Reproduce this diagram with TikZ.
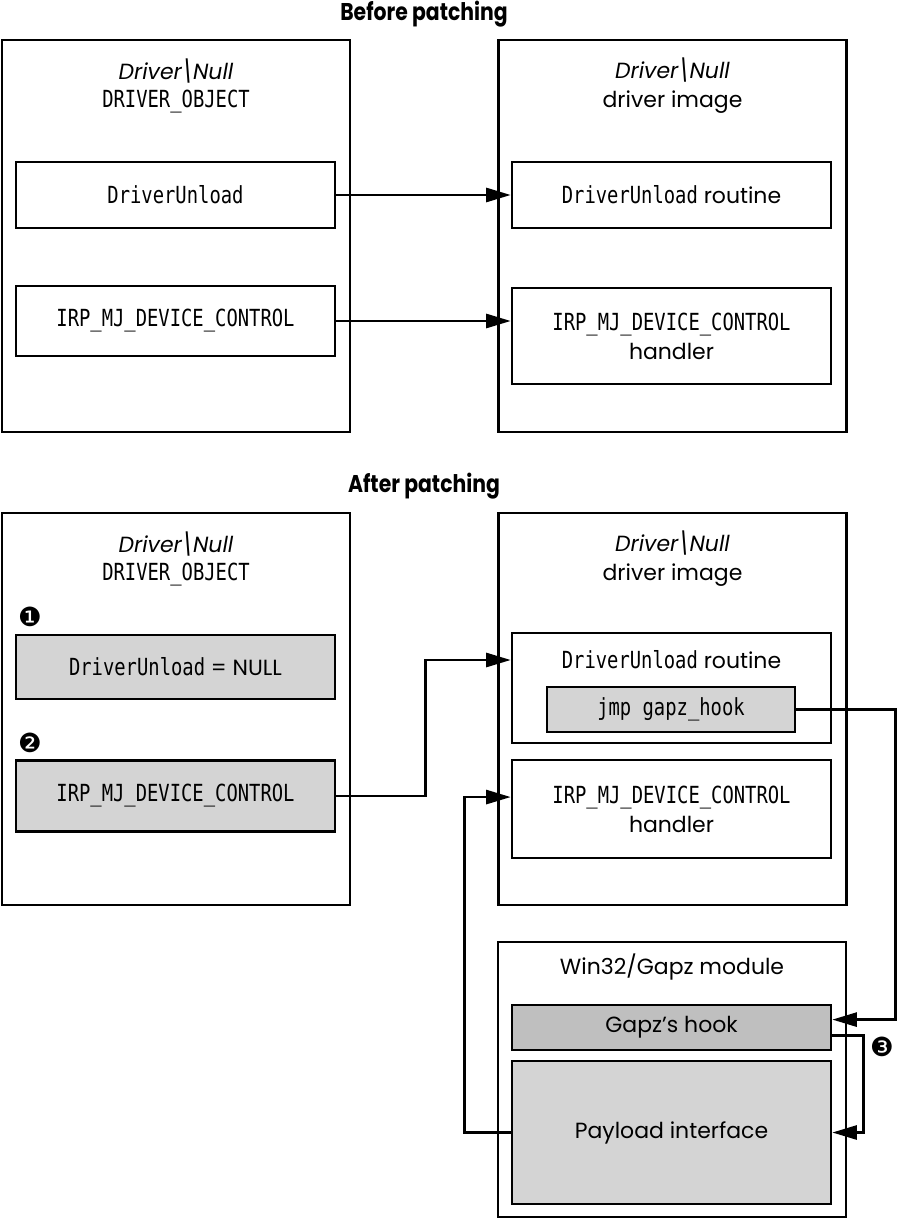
\documentclass[tikz,border=0pt]{standalone}
\usepackage{fontspec}
\setmainfont{Poppins}
\setmonofont{DejaVu Sans Mono}[FakeStretch=0.8]
\newfontfamily\numfont{DejaVu Sans}
\usetikzlibrary{arrows.meta}
\newcommand{\codetext}[1]{{\fontsize{13.4}{16.4}\selectfont\ttfamily #1}}

\begin{document}
\begin{tikzpicture}[x=0.02cm, y=-0.02cm,
            frame/.style={draw, line width=1.5pt, minimum width=6.96cm, minimum height=7.84cm},
            slot/.style={draw, line width=1.5pt, minimum width=6.38cm, align=center,
                font=\fontsize{12.5}{16.4}\selectfont},
            grey/.style={fill=black!17},
            hookfill/.style={fill=black!25},
            arr/.style={line width=1.5pt, -{Triangle[length=14pt, width=8pt]}},
            head/.style={font=\fontsize{13.8}{16}\selectfont\bfseries\addfontfeatures{FakeStretch=0.84}},
            caption/.style={align=center, font=\fontsize{12.5}{16.4}\selectfont},
            numstyle/.style={font=\fontsize{15}{15}\selectfont\numfont, inner sep=0pt}]
            \useasboundingbox (0,0) rectangle (898,1219);

            \node[head] (before) at (424,14) {Before patching};
            \node[frame] (objA) at (176,236) {};
            \node[frame] (imgA) at (672.5,236) {};
            \node[caption] (objA-title) at (176,86) {\textit{Driver\textbackslash Null}\\\codetext{DRIVER\_OBJECT}};
            \node[caption] (imgA-title) at (672.5,86) {\textit{Driver\textbackslash Null}\\driver image};

            \node[slot, minimum height=1.32cm] (unlA) at (175.5,195) {\codetext{DriverUnload}};
            \node[slot, minimum height=1.40cm] (irpA) at (175.5,321) {\codetext{IRP\_MJ\_DEVICE\_CONTROL}};
            \node[slot, minimum height=1.32cm] (unlA-img) at (671.5,195) {\codetext{DriverUnload} routine};
            \node[slot, minimum height=1.92cm] (irpA-img) at (671.5,336) {\codetext{IRP\_MJ\_DEVICE\_CONTROL}\\handler};

            \draw[arr] (unlA) -- (unlA-img);
            \draw[arr] (irpA) -- (irpA -| irpA-img.west);

            \node[head] (after) at (424,486) {After patching};
            \node[frame] (objB) at (176,709) {};
            \node[frame] (imgB) at (672.5,709) {};
            \node[caption] (objB-title) at (176,559) {\textit{Driver\textbackslash Null}\\\codetext{DRIVER\_OBJECT}};
            \node[caption] (imgB-title) at (672.5,559) {\textit{Driver\textbackslash Null}\\driver image};

            \node[slot, grey, minimum height=1.28cm] (unlB) at (175.5,667) {\codetext{DriverUnload} = NULL};
            \node[slot, grey, minimum height=1.42cm] (irpB) at (175.5,796) {\codetext{IRP\_MJ\_DEVICE\_CONTROL}};

            \node[slot, minimum height=2.2cm] (unlB-img) at (671.5,688) {};
            \node[caption] (unlB-label) at (671.5,660) {\codetext{DriverUnload} routine};
            \node[slot, grey, minimum width=4.96cm, minimum height=0.9cm] (jmp) at (671,709.5) {\codetext{jmp gapz\_hook}};
            \node[slot, minimum height=1.96cm] (irpB-img) at (671.5,809) {\codetext{IRP\_MJ\_DEVICE\_CONTROL}\\handler};

            \node[draw, line width=1.5pt, minimum width=6.96cm, minimum height=5.5cm] (gapz) at (672,1079.5) {};
            \node[caption] (gapz-title) at (672,967) {Win32/Gapz module};
            \node[slot, hookfill, minimum height=0.9cm] (hook) at (671.5,1027.5) {Gapz’s hook};
            \node[slot, grey, minimum height=2.86cm] (payload) at (671.5,1132.5) {Payload interface};

            \foreach \g/\x/\y/\nm in {❶/30/617/one, ❷/30/743/two, ❸/882/1047/three}
                {
                    \node[numstyle] (num-\nm) at (\x,\y) {\g};
                }

            \draw[arr] (irpB.east) -- ++(89,0) |- (unlB-img.west |- unlB-label);
            \draw[arr] (jmp.east) -- ++(99,0) |- ([yshift=4.5pt]hook.east);
            \draw[arr] ([yshift=-4.5pt]hook.east) -- ++(31,0) |- (payload.east);
            \draw[arr] (payload.west) -- ++(-46,0) |- ([yshift=6.8pt]irpB-img.west);
        \end{tikzpicture}
\end{document}
